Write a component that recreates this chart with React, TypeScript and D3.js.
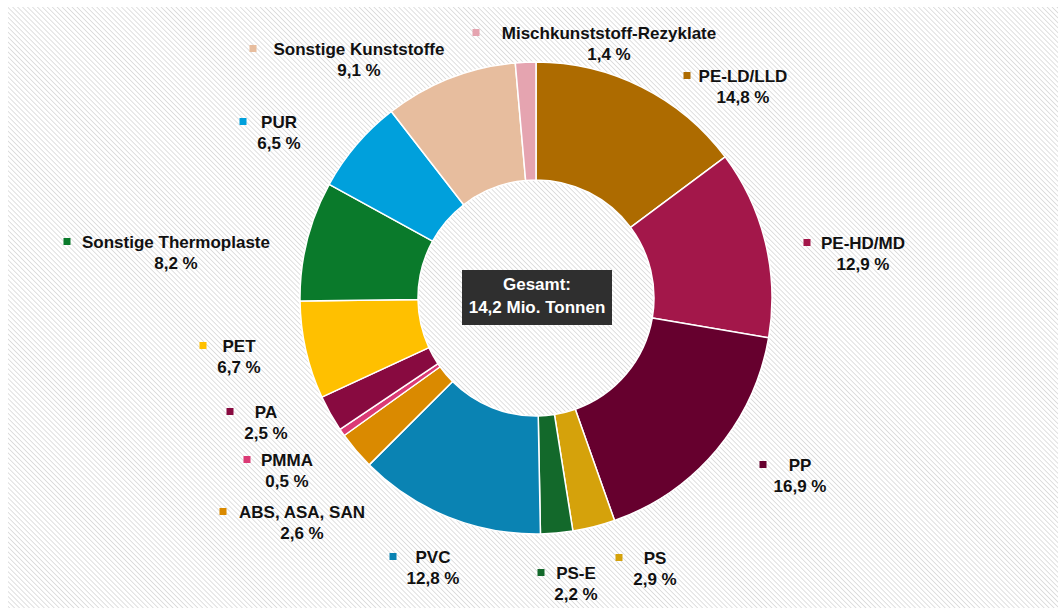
import React, { useEffect, useRef } from "react";
import * as d3 from "d3";

const categories = [
  "PE-LD/LLD", "PE-HD/MD", "PP", "PS", "PS-E", "PVC", "ABS, ASA, SAN",
  "PMMA", "PA", "PET", "Sonstige Thermoplaste", "PUR", "Sonstige Kunststoffe",
  "Mischkunststoff-Rezyklate",
];
const shares = [14.8, 12.9, 16.9, 2.9, 2.2, 12.8, 2.6, 0.5, 2.5, 6.7, 8.2, 6.5, 9.1, 1.4];
const shareLabels = shares.map((v) => d3.format(".1f")(v).replace(".", ",") + " %");
const colors = [
  "#AD6B00", "#A3174A", "#66002E", "#D5A20B", "#13692B", "#0A83B3", "#DA8A00",
  "#DB3A75", "#880A40", "#FFC000", "#0A7A2B", "#00A0DC", "#E7BD9E", "#E5A4B0",
];
const totalLines = ["Gesamt:", "14,2 Mio. Tonnen"];

// label layout (name centre x, name centre y, marker centre x)
const labelLayout: [number, number, number][] = [
  [743, 76, 687],
  [863, 243, 807],
  [800, 465, 763],
  [655, 558, 619],
  [576, 573, 541],
  [433, 557, 393],
  [302, 512, 223],
  [287, 460, 247],
  [266, 412, 230],
  [239, 346, 203],
  [176, 242, 67],
  [279, 122, 243],
  [359, 49, 253],
  [609, 33, 476],
];

const W = 1058;
const H = 608;
const CX = 536;
const CY = 298;
const R_OUT = 236;
const R_IN = 118;
const FONT = "'Liberation Sans', Arial, sans-serif";

export default function App() {
  const ref = useRef<SVGSVGElement>(null);
  useEffect(() => {
    const svg = d3.select(ref.current);
    svg.selectAll("*").remove();

    const defs = svg.append("defs");
    const pat = defs
      .append("pattern")
      .attr("id", "hatch")
      .attr("patternUnits", "userSpaceOnUse")
      .attr("width", 3.5)
      .attr("height", 3.5)
      .attr("patternTransform", "rotate(-45)");
    pat.append("rect").attr("width", 3.5).attr("height", 3.5).attr("fill", "#ffffff");
    pat.append("line").attr("x1", 0).attr("y1", 0).attr("x2", 0).attr("y2", 3.5)
      .attr("stroke", "#d8d8d8").attr("stroke-width", 1.6);

    svg.append("rect").attr("width", W).attr("height", H).attr("fill", "#ffffff");
    svg.append("rect").attr("x", 8).attr("y", 7).attr("width", W - 8).attr("height", H - 7)
      .attr("fill", "url(#hatch)");

    const pie = d3.pie<number>().value((d) => d).sort(null);
    const arcs = pie(shares);
    const arc = d3.arc<d3.PieArcDatum<number>>().innerRadius(R_IN).outerRadius(R_OUT);

    const g = svg.append("g").attr("transform", `translate(${CX},${CY})`);
    g.selectAll("path")
      .data(arcs)
      .enter()
      .append("path")
      .attr("d", arc)
      .attr("fill", (_d, i) => colors[i])
      .attr("stroke", "#ffffff")
      .attr("stroke-width", 1.5)
      .attr("stroke-linejoin", "round");

    // center box
    svg.append("rect").attr("x", 462).attr("y", 270).attr("width", 150).attr("height", 55)
      .attr("fill", "#2f2f2f");
    totalLines.forEach((t, i) => {
      svg.append("text").attr("x", 537).attr("y", 290 + i * 23)
        .attr("text-anchor", "middle").attr("font-family", FONT)
        .attr("font-weight", "bold").attr("font-size", 17).attr("fill", "#ffffff").text(t);
    });

    // labels
    categories.forEach((name, i) => {
      const [x, y, mx] = labelLayout[i];
      svg.append("rect").attr("x", mx - 3.5).attr("y", y - 4).attr("width", 7).attr("height", 7)
        .attr("fill", colors[i]);
      svg.append("text").attr("x", x).attr("y", y + 6)
        .attr("text-anchor", "middle").attr("font-family", FONT)
        .attr("font-weight", "bold").attr("font-size", 17).attr("fill", "#111111").text(name);
      svg.append("text").attr("x", x).attr("y", y + 27)
        .attr("text-anchor", "middle").attr("font-family", FONT)
        .attr("font-weight", "bold").attr("font-size", 17).attr("fill", "#111111").text(shareLabels[i]);
    });
  }, []);

  return (
    <svg
      ref={ref}
      width={W}
      height={H}
      style={{ position: "absolute", left: 0, top: 0, display: "block" }}
    />
  );
}
